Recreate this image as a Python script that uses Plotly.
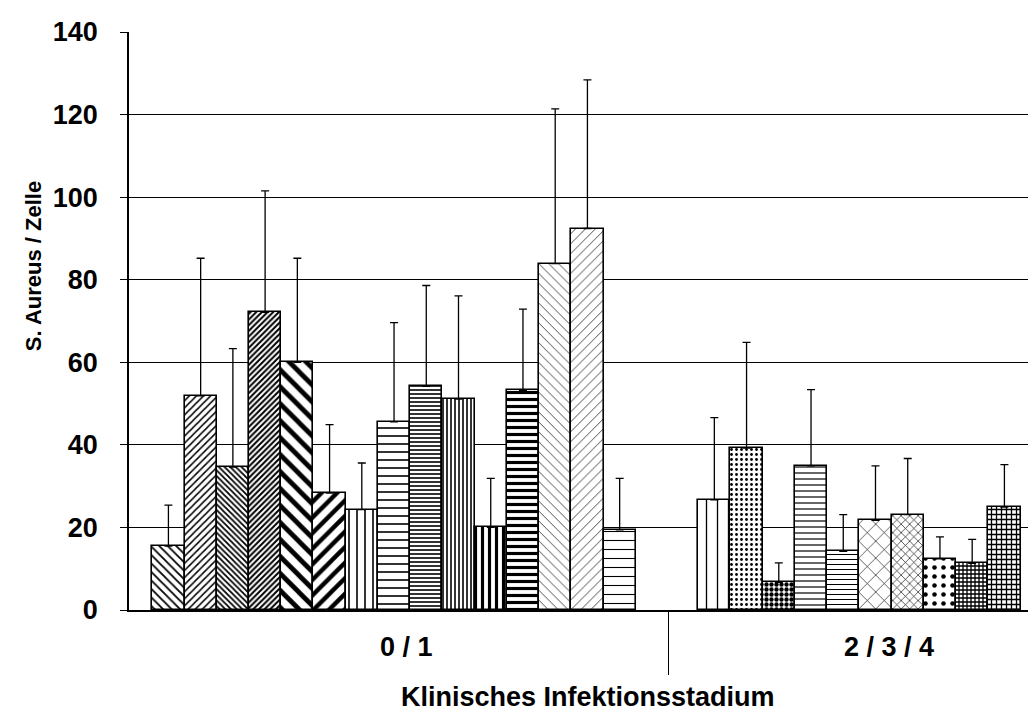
import numpy as np
import plotly.graph_objects as go

# ---------------- data ----------------
categories = ["0 / 1", "2 / 3 / 4"]
y_ticks = [0, 20, 40, 60, 80, 100, 120, 140]

g1_means = [15.5, 51.9, 34.6, 72.1, 60.0, 28.3, 24.3, 45.6, 54.2, 51.1, 20.0, 53.2, 83.9, 92.4, 19.4]
g1_sd    = [9.9, 33.3, 28.7, 29.4, 25.2, 16.6, 11.3, 24.0, 24.4, 25.0, 11.9, 19.7, 37.5, 36.0, 12.5]

g2_means = [26.7, 39.2, 6.7, 34.9, 14.2, 21.7, 23.1, 12.4, 11.3, 24.9]
g2_sd    = [19.9, 25.6, 4.7, 18.5, 8.9, 13.2, 13.6, 5.3, 5.8, 10.3]

y_title = "S. Aureus / Zelle"
x_title = "Klinisches Infektionsstadium"

# ---------------- styling ----------------
g1_shapes = ["\\", "/", "\\", "/", "\\", "/", "|", "-", "-", "|", "|", "-", "\\", "/", "-"]
g1_sizes  = [6, 5, 4, 4, 12, 11, 8, 8, 4, 4, 7, 7, 7, 7, 9]
g1_solid  = [0.3, 0.3, 0.45, 0.5, 0.4, 0.4, 0.2, 0.2, 0.4, 0.4, 0.45, 0.45, 0.1, 0.1, 0.12]

g2_shapes = ["|", ".", ".", "-", "-", "x", "x", ".", "+", "+"]
g2_sizes  = [11, 5, 5, 6, 5, 12, 6, 9, 4, 5]
g2_solid  = [0.12, 0.25, 0.6, 0.2, 0.2, 0.1, 0.2, 0.2, 0.55, 0.45]

FONT = "Liberation Sans, Arial, sans-serif"

# layout positions in bar-slot units
g1_start = 0.723
g2_start = 17.66
divider = 16.75
x_max = 28.14
label_pos = [8.61, 23.58]

x1 = g1_start + 0.5 + np.arange(len(g1_means))
x2 = g2_start + 0.5 + np.arange(len(g2_means))

fig = go.Figure()


def add_group(x, means, sd, shapes, sizes, solid):
    fig.add_trace(go.Bar(
        x=x, y=means, width=1.0,
        marker=dict(
            color="white",
            line=dict(color="black", width=1.6),
            pattern=dict(shape=shapes, size=sizes, solidity=solid,
                         fgcolor="black", bgcolor="white", fillmode="replace"),
        ),
        error_y=dict(type="data", symmetric=False, array=sd,
                     arrayminus=[0] * len(sd), color="black",
                     thickness=1.3, width=4),
        showlegend=False,
    ))


add_group(x1, g1_means, g1_sd, g1_shapes, g1_sizes, g1_solid)
add_group(x2, g2_means, g2_sd, g2_shapes, g2_sizes, g2_solid)

# page body has an 8px default margin, so the figure is shrunk by 8px
fig.update_layout(
    width=1028, height=718,
    margin=dict(l=121, r=0, t=24, b=116, autoexpand=False),
    paper_bgcolor="white", plot_bgcolor="white",
    bargap=0,
    font=dict(family=FONT, color="black"),
    xaxis=dict(
        range=[0, x_max], showgrid=False, zeroline=False,
        showline=True, linecolor="black", linewidth=1.5,
        tickmode="array", tickvals=[divider], ticks="outside",
        ticklen=63, tickwidth=1.3, tickcolor="black",
        showticklabels=False, automargin=False,
    ),
    yaxis=dict(
        range=[0, 140], tickmode="array", tickvals=y_ticks,
        showgrid=True, gridcolor="black", gridwidth=1,
        zeroline=False, showline=True, linecolor="black", linewidth=1.5,
        ticks="outside", ticklen=7, tickwidth=1.3, tickcolor="black",
        ticklabelstandoff=17, automargin=False,
        tickfont=dict(family=FONT, size=27, weight="bold", color="black"),
    ),
)

for cat, pos in zip(categories, label_pos):
    fig.add_annotation(x=pos, xref="x", y=-0.064, yref="paper",
                       text=cat, showarrow=False, xanchor="center", yanchor="middle",
                       font=dict(family=FONT, size=27, weight="bold", color="black"))

fig.add_annotation(x=0.506, xref="paper", y=-0.1505, yref="paper",
                   text=x_title, showarrow=False, xanchor="center", yanchor="middle",
                   font=dict(family=FONT, size=27, weight="bold", color="black"))

fig.add_annotation(x=-0.1058, xref="paper", y=0.595, yref="paper",
                   text=y_title, showarrow=False, textangle=-90,
                   xanchor="center", yanchor="middle",
                   font=dict(family=FONT, size=22, weight="bold", color="black"))

fig.write_html("out.html")
